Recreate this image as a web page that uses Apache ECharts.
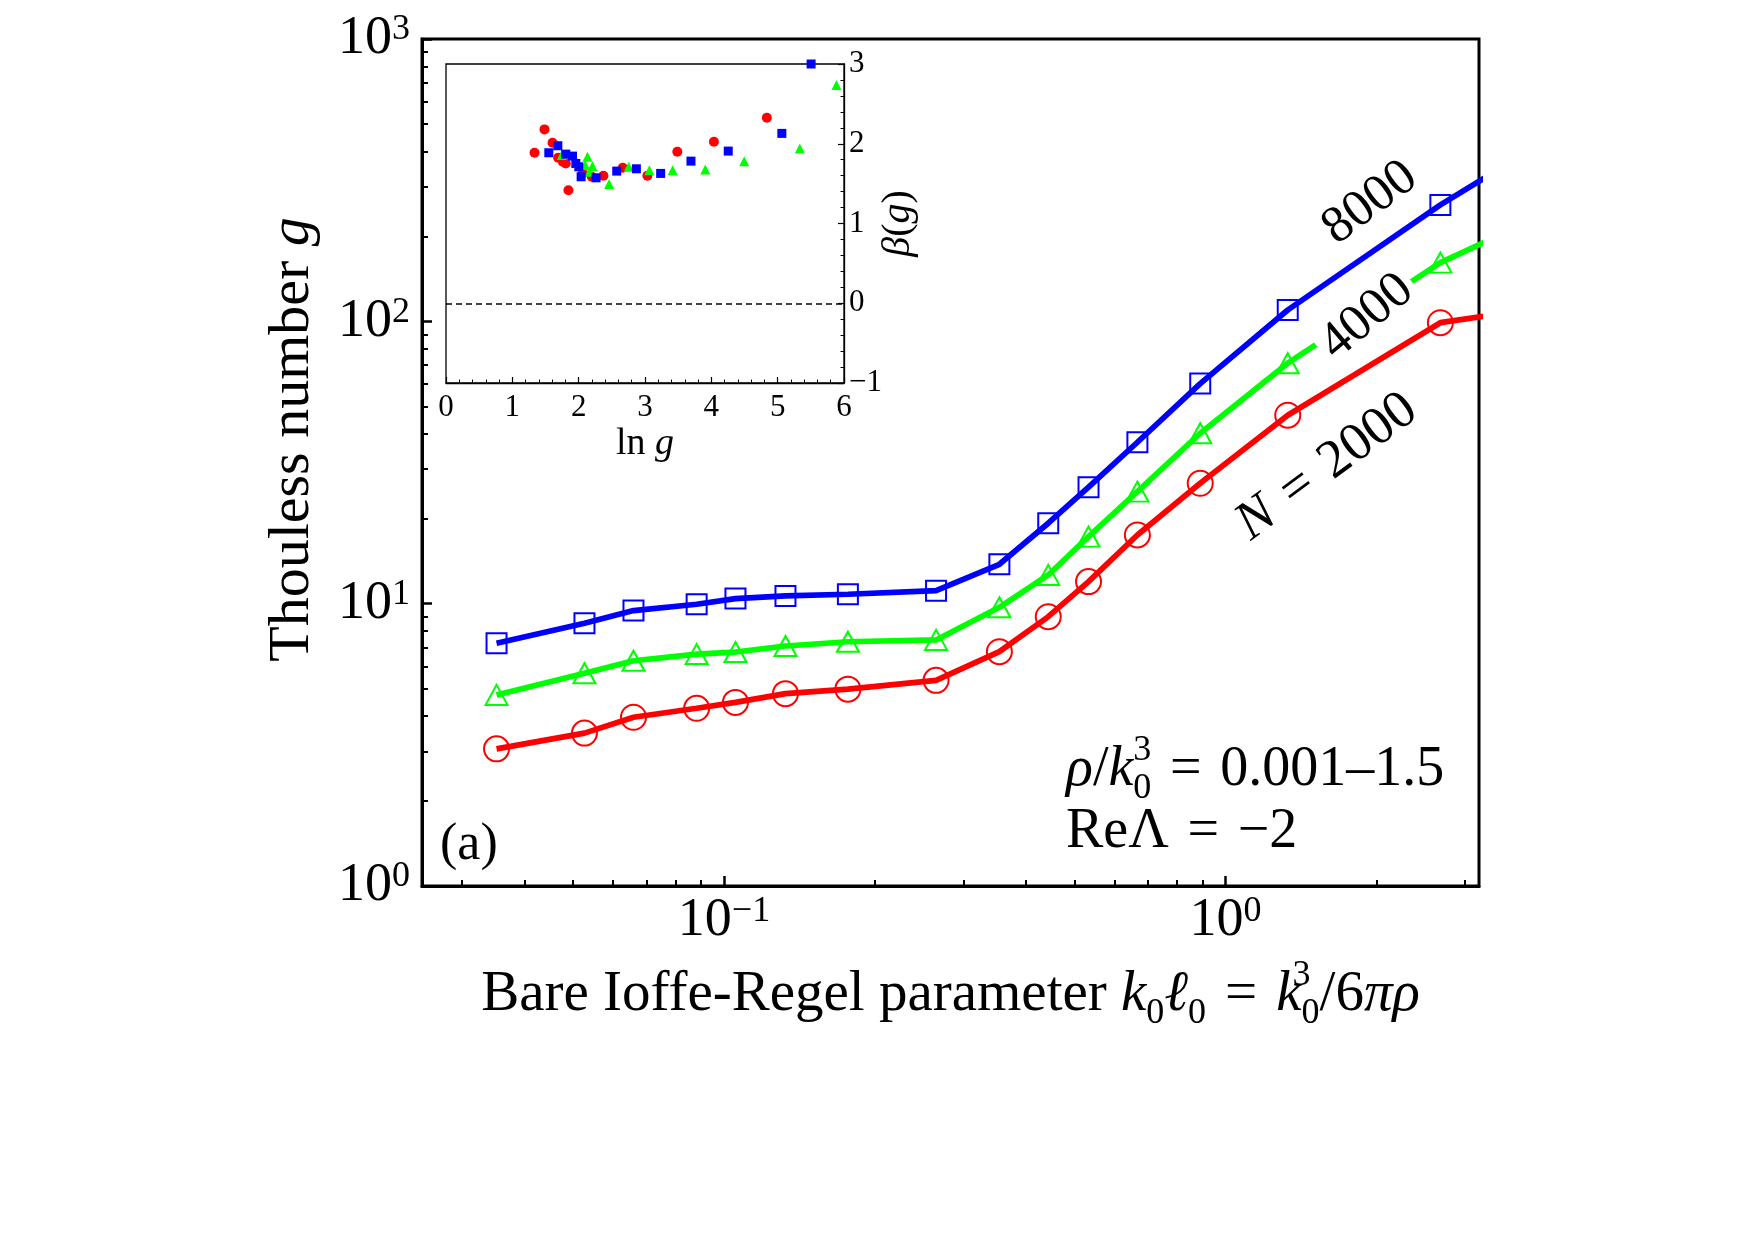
<!DOCTYPE html>
<html lang="en">
<head>
<meta charset="UTF-8">
<title>Thouless number g</title>
<script src="https://cdn.jsdelivr.net/npm/echarts@6/dist/echarts.min.js"></script>
<style>
  *{margin:0;padding:0;border:none}
  html,body{width:100%;height:100%;background:#fff;overflow:hidden}
  #main{width:1754px;height:1241px}
</style>
</head>
<body>
<div id="main"></div>
<script>
// main panel: bare Ioffe-Regel parameter k0*l0 and Thouless number g for N = 8000 / 4000 / 2000
var kl    = [0.0352, 0.0527, 0.066, 0.0882, 0.1054, 0.1326, 0.1766, 0.2647, 0.354, 0.443, 0.533, 0.667, 0.89, 1.33, 2.68, 5.3];
var g8000 = [7.24, 8.52, 9.45, 9.95, 10.42, 10.65, 10.80, 11.12, 13.79, 19.27, 25.85, 37.3, 60.2, 109.7, 258.5, 541];
var g4000 = [4.75, 5.67, 6.28, 6.63, 6.74, 7.08, 7.33, 7.44, 9.71, 12.64, 17.28, 24.93, 40.14, 71.06, 161.4, 283];
var g2000 = [3.06, 3.48, 3.96, 4.26, 4.47, 4.80, 4.98, 5.35, 6.76, 8.99, 11.97, 17.51, 26.70, 46.5, 98.9, 118];

// inset: beta(g) against ln g
var lnG2000  = [1.335, 1.485, 1.606, 1.691, 1.761, 1.806, 1.846, 2.062, 2.198, 2.373, 2.664, 3.036, 3.487, 4.039, 4.837];
var beta2000 = [1.887, 2.180, 2.013, 1.824, 1.774, 1.753, 1.418, 1.628, 1.586, 1.598, 1.699, 1.598, 1.900, 2.025, 2.326];
var lnG4000  = [1.746, 2.097, 2.132, 2.163, 2.208, 2.459, 2.755, 3.066, 3.417, 3.909, 4.496, 5.334, 5.886];
var beta4000 = [1.858, 1.732, 1.837, 1.649, 1.720, 1.494, 1.711, 1.669, 1.669, 1.678, 1.782, 1.941, 2.736];
var lnG8000  = [1.550, 1.686, 1.806, 1.907, 1.957, 2.002, 2.037, 2.263, 2.574, 2.870, 3.236, 3.693, 4.255, 5.063, 5.504];
var beta8000 = [1.887, 1.975, 1.870, 1.845, 1.753, 1.711, 1.586, 1.573, 1.657, 1.686, 1.628, 1.782, 1.908, 2.130, 3.0];

// minor tick positions of the log axes
var xMinorTicks = [0.03, 0.04, 0.05, 0.06, 0.07, 0.08, 0.09, 0.2, 0.3, 0.4, 0.5, 0.6, 0.7, 0.8, 0.9, 2, 3];
var yMinorTicks = [2, 3, 4, 5, 6, 7, 8, 9, 20, 30, 40, 50, 60, 70, 80, 90, 200, 300, 400, 500, 600, 700, 800, 900];

var X_MIN = 0.025, X_MAX = 3.2, Y_MIN = 1, Y_MAX = 1000;
var FONT = 'Liberation Serif';
var BLUE = '#0000ff', GREEN = '#00ff00', RED = '#ff0000';
var SP = '\u2004';   // three-per-em space around "="

var mainGrid = {left: 422, top: 39, width: 1057, height: 847};

function pairs(xs, ys) {
    return xs.map(function (x, i) { return [x, ys[i]]; });
}
function log10All(arr) {
    return arr.map(function (v) { return Math.log10(v); });
}
function powLabel(v) {
    var e = Math.log10(v);
    var r = Math.round(e);
    if (Math.abs(e - r) > 1e-6) return '';
    return '{b|10}{s|' + (r < 0 ? '\u2212' + (-r) : r) + '}';
}
function ts(size, extra) {
    var o = {fontSize: size, fontFamily: FONT, color: '#000'};
    for (var k in extra) o[k] = extra[k];
    return o;
}
var powRich = {
    b: ts(54),
    s: ts(36, {verticalAlign: 'top'})
};

function mainLine(name, ys, color, symbol, size) {
    return {
        name: name,
        type: 'line',
        xAxisIndex: 0,
        yAxisIndex: 0,
        data: pairs(kl, ys),
        symbol: symbol,
        symbolSize: size,
        lineStyle: {color: color, width: 5.7},
        itemStyle: {color: 'rgba(0,0,0,0)', borderColor: color, borderWidth: 2},
        clip: true,
        silent: true,
        z: 3
    };
}
function insetScatter(name, xs, ys, color, symbol, size) {
    return {
        name: name,
        type: 'scatter',
        xAxisIndex: 2,
        yAxisIndex: 2,
        data: pairs(xs, ys),
        symbol: symbol,
        symbolSize: size,
        itemStyle: {color: color, opacity: 1},
        silent: true,
        z: 4
    };
}

var chart = echarts.init(document.getElementById('main'), null, {renderer: 'canvas'});

var option = {
    animation: false,
    backgroundColor: '#fff',
    grid: [
        {left: mainGrid.left, top: mainGrid.top, width: mainGrid.width, height: mainGrid.height,
         show: true, borderColor: '#000', borderWidth: 3, backgroundColor: 'rgba(0,0,0,0)', outerBoundsMode: 'none'},
        // same box again, only carries the minor ticks of the log axes
        {left: mainGrid.left, top: mainGrid.top, width: mainGrid.width, height: mainGrid.height,
         show: false, outerBoundsMode: 'none'},
        {left: 446, top: 64, width: 398, height: 319,
         show: true, borderColor: '#000', borderWidth: 1.3, backgroundColor: '#fff', outerBoundsMode: 'none'}
    ],
    xAxis: [
        {
            type: 'log', logBase: 10, gridIndex: 0, min: X_MIN, max: X_MAX,
            axisLine: {show: true, onZero: false, lineStyle: {color: '#000', width: 3}},
            axisTick: {show: true, inside: true, length: 10, lineStyle: {color: '#000', width: 2.5}},
            minorTick: {show: false},
            splitLine: {show: false},
            axisLabel: {
                show: true, margin: 8, showMinLabel: false, showMaxLabel: false,
                formatter: powLabel, rich: powRich, fontSize: 54, fontFamily: FONT, color: '#000'
            },
            name: 'Bare Ioffe-Regel parameter {i|k}{b|0}{i|\u2113}{b|0}' + SP + '=' + SP +
                  '{i|k}{p|3}{b|0}/6{i|\u03c0\u03c1}',
            nameLocation: 'middle',
            nameGap: 72,
            nameMoveOverlap: false,
            nameTextStyle: {
                fontSize: 57, fontFamily: FONT, color: '#000', lineHeight: 74,
                rich: {
                    i: ts(57, {fontStyle: 'italic', align: 'left', lineHeight: 74}),
                    b: ts(36, {verticalAlign: 'bottom', align: 'left'}),
                    p: ts(36, {verticalAlign: 'top', align: 'left', width: 0})
                }
            }
        },
        {
            type: 'value', gridIndex: 1, min: Math.log10(X_MIN), max: Math.log10(X_MAX),
            axisLine: {show: false, onZero: false},
            axisTick: {show: true, inside: true, length: 6, customValues: log10All(xMinorTicks),
                       lineStyle: {color: '#000', width: 2}},
            axisLabel: {show: false},
            splitLine: {show: false}
        },
        {
            type: 'value', gridIndex: 2, min: 0, max: 6, interval: 1,
            axisLine: {show: true, onZero: false, lineStyle: {color: '#000', width: 1.3}},
            axisTick: {show: true, inside: true, length: 6, lineStyle: {color: '#000', width: 1.2}},
            minorTick: {show: true, splitNumber: 5, length: 3.5, lineStyle: {color: '#000', width: 1}},
            splitLine: {show: false},
            axisLabel: {show: true, margin: 9, fontSize: 31, fontFamily: FONT, color: '#000'},
            name: 'ln {i|g}',
            nameLocation: 'middle',
            nameGap: 42,
            nameMoveOverlap: false,
            nameTextStyle: {
                fontSize: 38, fontFamily: FONT, color: '#000',
                rich: {i: ts(38, {fontStyle: 'italic'})}
            }
        }
    ],
    yAxis: [
        {
            type: 'log', logBase: 10, gridIndex: 0, min: Y_MIN, max: Y_MAX,
            axisLine: {show: true, onZero: false, lineStyle: {color: '#000', width: 3}},
            axisTick: {show: true, inside: true, length: 10, lineStyle: {color: '#000', width: 2.5}},
            minorTick: {show: false},
            splitLine: {show: false},
            axisLabel: {
                show: true, margin: 12,
                formatter: powLabel, rich: powRich, fontSize: 54, fontFamily: FONT, color: '#000'
            },
            name: 'Thouless number {i|g}',
            nameLocation: 'middle',
            nameGap: 100,
            nameMoveOverlap: false,
            nameTextStyle: {
                fontSize: 58, fontFamily: FONT, color: '#000', padding: [0, 0, 0, 46],
                rich: {i: ts(58, {fontStyle: 'italic'})}
            }
        },
        {
            type: 'value', gridIndex: 1, min: 0, max: 3,
            axisLine: {show: false, onZero: false},
            axisTick: {show: true, inside: true, length: 6, customValues: log10All(yMinorTicks),
                       lineStyle: {color: '#000', width: 2}},
            axisLabel: {show: false},
            splitLine: {show: false}
        },
        {
            type: 'value', gridIndex: 2, position: 'right', min: -1, max: 3, interval: 1,
            axisLine: {show: true, onZero: false, lineStyle: {color: '#000', width: 1.3}},
            axisTick: {show: true, inside: true, length: 6, lineStyle: {color: '#000', width: 1.2}},
            minorTick: {show: true, splitNumber: 5, length: 3.5, lineStyle: {color: '#000', width: 1}},
            splitLine: {show: false},
            axisLabel: {
                show: true, margin: 5, fontSize: 31, fontFamily: FONT, color: '#000',
                formatter: function (v) { return v < 0 ? '\u2212' + (-v) : String(v); }
            },
            name: '{i|\u03b2}({i|g})',
            nameLocation: 'middle',
            nameRotate: 90,
            nameGap: 34,
            nameMoveOverlap: false,
            nameTextStyle: {
                fontSize: 40, fontFamily: FONT, color: '#000',
                rich: {i: ts(40, {fontStyle: 'italic'})}
            }
        }
    ],
    series: [
        mainLine('N = 8000', g8000, BLUE, 'rect', 20),
        mainLine('N = 4000', g4000, GREEN, 'triangle', [22, 20]),
        mainLine('N = 2000', g2000, RED, 'circle', 25),
        {
            name: 'zero', type: 'line', xAxisIndex: 2, yAxisIndex: 2, data: [],
            markLine: {
                silent: true, symbol: ['none', 'none'], label: {show: false},
                lineStyle: {color: '#000', width: 1.6, type: [6, 4]},
                data: [{yAxis: 0}]
            }
        },
        insetScatter('2000', lnG2000, beta2000, RED, 'circle', 10),
        insetScatter('4000', lnG4000, beta4000, GREEN, 'triangle', 10),
        insetScatter('8000', lnG8000, beta8000, BLUE, 'rect', 9)
    ],
    graphic: [
        {
            type: 'text', x: 1370, y: 203, rotation: 37 * Math.PI / 180, z: 20,
            style: {text: '8000', fontSize: 52, fontFamily: FONT, fill: '#000', align: 'center', verticalAlign: 'middle'}
        },
        {
            type: 'text', x: 1367, y: 317, rotation: 40 * Math.PI / 180, z: 20,
            style: {text: '4000', fontSize: 52, fontFamily: FONT, fill: '#000', align: 'center', verticalAlign: 'middle',
                    backgroundColor: '#fff', padding: [0, 5]}
        },
        {
            type: 'text', x: 1327, y: 467, rotation: 36.5 * Math.PI / 180, z: 20,
            style: {
                text: '{i|N}' + SP + '=' + SP + '2000', fontSize: 54, fontFamily: FONT, fill: '#000',
                align: 'center', verticalAlign: 'middle',
                rich: {i: {fontSize: 54, fontFamily: FONT, fontStyle: 'italic', fill: '#000'}}
            }
        },
        {
            type: 'text', x: 1066, y: 770, z: 20,
            style: {
                text: '{i|\u03c1}/{i|k}{p|3}{b|0}' + SP + '=' + SP + '0.001\u20131.5',
                fontSize: 56, fontFamily: FONT, fill: '#000', lineHeight: 74,
                align: 'left', verticalAlign: 'middle',
                rich: {
                    i: {fontSize: 56, fontFamily: FONT, fontStyle: 'italic', fill: '#000', align: 'left', lineHeight: 74},
                    p: {fontSize: 36, fontFamily: FONT, fill: '#000', verticalAlign: 'top', align: 'left', width: 0},
                    b: {fontSize: 36, fontFamily: FONT, fill: '#000', verticalAlign: 'bottom', align: 'left'}
                }
            }
        },
        {
            type: 'text', x: 1066, y: 832, z: 20,
            style: {text: 'Re\u039b' + SP + '=' + SP + '\u22122', fontSize: 56, fontFamily: FONT, fill: '#000',
                    align: 'left', verticalAlign: 'middle'}
        },
        {
            type: 'text', x: 440, y: 845, z: 20,
            style: {text: '(a)', fontSize: 52, fontFamily: FONT, fill: '#000', align: 'left', verticalAlign: 'middle'}
        }
    ]
};

chart.setOption(option);
window.onresize = function () { chart.resize(); };
</script>
</body>
</html>
